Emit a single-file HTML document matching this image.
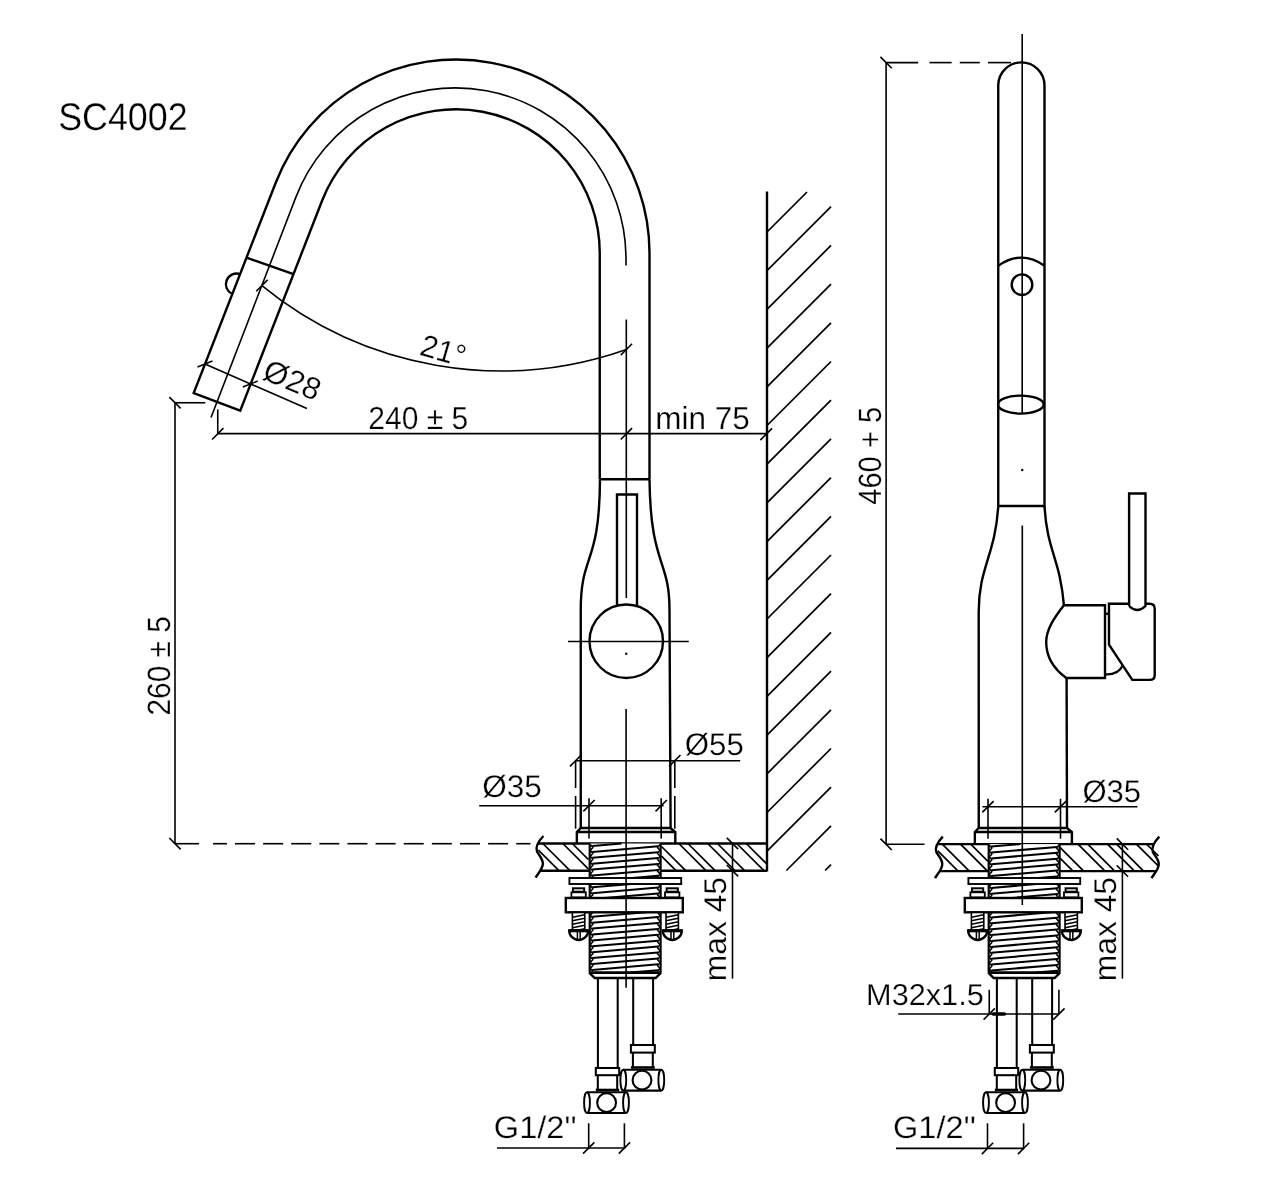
<!DOCTYPE html>
<html lang="en"><head><meta charset="utf-8"><title>SC4002</title>
<style>
html,body{margin:0;padding:0;background:#fff;overflow:hidden}
svg{display:block;will-change:transform}
svg *{vector-effect:none}
.d{fill:none;stroke:#000;stroke-linecap:butt;stroke-linejoin:miter}
.d text{fill:#000;stroke:#fff;paint-order:fill stroke;stroke-linejoin:round;font-family:"Liberation Sans",sans-serif;text-rendering:geometricPrecision}
</style></head>
<body>
<svg width="1280" height="1192" viewBox="0 0 1280 1192">
<rect width="1280" height="1192" fill="#fff"/>
<g class="d">
<path d="M649.5 479.25 L649.5 253 A193.5 193.5 0 0 0 275.72 182.71 L193.7 393.09 L240.27 410.6 L322.07 200.78 A143.75 143.75 0 0 1 599.75 253 L599.75 479.25" stroke-width="2.4" />
<line x1="246.48" y1="257.71" x2="293.52" y2="274.01" stroke-width="2.4" />
<path d="M211 417.5 L295.89 197.1 A170.8 170.8 0 0 1 626 258.7 L626 265.6" stroke-width="1.6" />
<path d="M239.75 274 A10.7 10.7 0 0 0 232.25 294" stroke-width="2.4" />
<path d="M261.9 285.6 A377.86 377.86 0 0 0 626.4 349.4" stroke-width="1.6" />
<line x1="256.24" y1="291.26" x2="267.56" y2="279.94" stroke-width="1.6" />
<line x1="620.74" y1="355.06" x2="632.06" y2="343.74" stroke-width="1.6" />
<line x1="205" y1="364" x2="306.9" y2="408.5" stroke-width="1.6" />
<line x1="197.55" y1="366.92" x2="212.45" y2="361.08" stroke-width="1.6" />
<line x1="242.8" y1="386.92" x2="257.7" y2="381.08" stroke-width="1.6" />
<line x1="217.75" y1="433.6" x2="767" y2="433.6" stroke-width="1.6" />
<line x1="217.75" y1="409.4" x2="217.75" y2="433.6" stroke-width="1.6" />
<line x1="212.09" y1="439.46" x2="223.41" y2="428.14" stroke-width="1.6" />
<line x1="620.74" y1="439.46" x2="632.06" y2="428.14" stroke-width="1.6" />
<line x1="760.33" y1="440.07" x2="772.07" y2="428.33" stroke-width="1.6" />
<line x1="175" y1="402.75" x2="175" y2="843.7" stroke-width="1.6" />
<line x1="175" y1="402.75" x2="205.25" y2="402.75" stroke-width="1.6" />
<line x1="169.34" y1="397.09" x2="180.66" y2="408.41" stroke-width="1.6" />
<line x1="169.34" y1="838.04" x2="180.66" y2="849.36" stroke-width="1.6" />
<line x1="175" y1="843.7" x2="199" y2="843.7" stroke-width="1.6" />
<line x1="213" y1="843.7" x2="227" y2="843.7" stroke-width="1.6" />
<line x1="235" y1="843.7" x2="255" y2="843.7" stroke-width="1.6" />
<line x1="263.12" y1="843.7" x2="283.12" y2="843.7" stroke-width="1.6" />
<line x1="291.24" y1="843.7" x2="311.24" y2="843.7" stroke-width="1.6" />
<line x1="319.36" y1="843.7" x2="339.36" y2="843.7" stroke-width="1.6" />
<line x1="347.48" y1="843.7" x2="367.48" y2="843.7" stroke-width="1.6" />
<line x1="375.6" y1="843.7" x2="395.6" y2="843.7" stroke-width="1.6" />
<line x1="403.72" y1="843.7" x2="423.72" y2="843.7" stroke-width="1.6" />
<line x1="431.84" y1="843.7" x2="451.84" y2="843.7" stroke-width="1.6" />
<line x1="459.96" y1="843.7" x2="479.96" y2="843.7" stroke-width="1.6" />
<line x1="488.08" y1="843.7" x2="508.08" y2="843.7" stroke-width="1.6" />
<line x1="516.2" y1="843.7" x2="530.5" y2="843.7" stroke-width="1.6" />
<path d="M600 479.25 C599.5 566.75 580.75 552.5 580.75 610 L580.75 828" stroke-width="2.4" />
<path d="M649.5 479.25 C650.5 566.75 669.5 558 669.5 610 L670.6 828" stroke-width="2.4" />
<line x1="600" y1="479.25" x2="649.5" y2="479.25" stroke-width="2.4" />
<path d="M617 606 L617 494.5 L637 494.5 L637 606" stroke-width="2.4" />
<circle cx="626.25" cy="641.25" r="36.75" stroke-width="2.4" />
<line x1="568" y1="641.5" x2="688.75" y2="641.5" stroke-width="1.6" />
<circle cx="626.25" cy="653.75" r="0.45" stroke-width="1.6" fill="#000"/>
<path d="M580.75 828 L670.4 828 M576.85 843.5 L576.85 832 L580.75 828 M675.3 843.5 L675.3 832 L670.4 828 M576.85 832 L675.3 832" stroke-width="2.4" />
<line x1="538" y1="843.5" x2="767" y2="843.5" stroke-width="2.4" />
<line x1="541" y1="870.7" x2="767" y2="870.7" stroke-width="2.4" />
<line x1="538.4" y1="850.2" x2="558.9" y2="870.7" stroke-width="1.7" />
<line x1="542.8" y1="843.5" x2="570" y2="870.7" stroke-width="1.7" />
<line x1="562.8" y1="843.5" x2="588.5" y2="869.2" stroke-width="1.7" />
<line x1="572.3" y1="843.5" x2="588.5" y2="859.7" stroke-width="1.7" />
<line x1="661.5" y1="856.2" x2="676" y2="870.7" stroke-width="1.7" />
<line x1="661.5" y1="846.5" x2="685.7" y2="870.7" stroke-width="1.7" />
<line x1="678.8" y1="843.5" x2="706" y2="870.7" stroke-width="1.7" />
<line x1="687.9" y1="843.5" x2="715.1" y2="870.7" stroke-width="1.7" />
<line x1="707.7" y1="843.5" x2="734.9" y2="870.7" stroke-width="1.7" />
<line x1="717.4" y1="843.5" x2="744.6" y2="870.7" stroke-width="1.7" />
<line x1="736.7" y1="843.5" x2="763.9" y2="870.7" stroke-width="1.7" />
<line x1="746.3" y1="843.5" x2="767" y2="864.2" stroke-width="1.7" />
<path d="M543.4 836 C539.1 840.5 535.1 846.5 537 851.5 C539.1 855.5 543.6 859.5 542.8 864.5 C542.1 869.5 538.1 873.5 535.6 877.5" stroke-width="2.4" />
<rect x="589.7" y="843.5" width="70.9" height="129.1" fill="#fff" stroke="none"/>
<line x1="592.2" y1="846" x2="621.62" y2="843.5" stroke-width="2.05" />
<line x1="592.2" y1="851.9" x2="658.1" y2="846.3" stroke-width="2.05" />
<line x1="592.2" y1="857.8" x2="658.1" y2="852.2" stroke-width="2.05" />
<line x1="592.2" y1="863.7" x2="658.1" y2="858.1" stroke-width="2.05" />
<line x1="592.2" y1="869.6" x2="658.1" y2="864" stroke-width="2.05" />
<line x1="592.2" y1="875.5" x2="658.1" y2="869.9" stroke-width="2.05" />
<line x1="592.2" y1="881.4" x2="658.1" y2="875.8" stroke-width="2.05" />
<line x1="592.2" y1="887.3" x2="658.1" y2="881.7" stroke-width="2.05" />
<line x1="592.2" y1="893.2" x2="658.1" y2="887.6" stroke-width="2.05" />
<line x1="592.2" y1="899.1" x2="658.1" y2="893.5" stroke-width="2.05" />
<line x1="592.2" y1="905" x2="658.1" y2="899.4" stroke-width="2.05" />
<line x1="592.2" y1="910.9" x2="658.1" y2="905.3" stroke-width="2.05" />
<line x1="592.2" y1="916.8" x2="658.1" y2="911.2" stroke-width="2.05" />
<line x1="592.2" y1="922.7" x2="658.1" y2="917.1" stroke-width="2.05" />
<line x1="592.2" y1="928.6" x2="658.1" y2="923" stroke-width="2.05" />
<line x1="592.2" y1="934.5" x2="658.1" y2="928.9" stroke-width="2.05" />
<line x1="592.2" y1="940.4" x2="658.1" y2="934.8" stroke-width="2.05" />
<line x1="592.2" y1="946.3" x2="658.1" y2="940.7" stroke-width="2.05" />
<line x1="592.2" y1="952.2" x2="658.1" y2="946.6" stroke-width="2.05" />
<line x1="592.2" y1="958.1" x2="658.1" y2="952.5" stroke-width="2.05" />
<line x1="592.2" y1="964" x2="658.1" y2="958.4" stroke-width="2.05" />
<line x1="592.2" y1="969.9" x2="658.1" y2="964.3" stroke-width="2.05" />
<line x1="629.86" y1="972.6" x2="658.1" y2="970.2" stroke-width="2.05" />
<line x1="589.7" y1="843.5" x2="589.7" y2="972.6" stroke-width="2.2" />
<line x1="660.6" y1="843.5" x2="660.6" y2="972.6" stroke-width="2.2" />
<path d="M590.3 844.5 L592.9 847.45 L590.3 850.4 L592.9 853.35 L590.3 856.3 L592.9 859.25 L590.3 862.2 L592.9 865.15 L590.3 868.1 L592.9 871.05 L590.3 874 L592.9 876.95 L590.3 879.9 L592.9 882.85 L590.3 885.8 L592.9 888.75 L590.3 891.7 L592.9 894.65 L590.3 897.6 L592.9 900.55 L590.3 903.5 L592.9 906.45 L590.3 909.4 L592.9 912.35 L590.3 915.3 L592.9 918.25 L590.3 921.2 L592.9 924.15 L590.3 927.1 L592.9 930.05 L590.3 933 L592.9 935.95 L590.3 938.9 L592.9 941.85 L590.3 944.8 L592.9 947.75 L590.3 950.7 L592.9 953.65 L590.3 956.6 L592.9 959.55 L590.3 962.5 L592.9 965.45 L590.3 968.4 L592.9 971.35" stroke-width="1.5" stroke-linejoin="round"/>
<path d="M660 844.5 L657.4 847.45 L660 850.4 L657.4 853.35 L660 856.3 L657.4 859.25 L660 862.2 L657.4 865.15 L660 868.1 L657.4 871.05 L660 874 L657.4 876.95 L660 879.9 L657.4 882.85 L660 885.8 L657.4 888.75 L660 891.7 L657.4 894.65 L660 897.6 L657.4 900.55 L660 903.5 L657.4 906.45 L660 909.4 L657.4 912.35 L660 915.3 L657.4 918.25 L660 921.2 L657.4 924.15 L660 927.1 L657.4 930.05 L660 933 L657.4 935.95 L660 938.9 L657.4 941.85 L660 944.8 L657.4 947.75 L660 950.7 L657.4 953.65 L660 956.6 L657.4 959.55 L660 962.5 L657.4 965.45 L660 968.4 L657.4 971.35" stroke-width="1.5" stroke-linejoin="round"/>
<path d="M589.7 972.6 L660.6 972.6" stroke-width="2.8" />
<path d="M589.2 972.6 L594.7 978 L655.6 978 L661.1 972.6" stroke-width="2.4" />
<rect x="569.4" y="878" width="111.8" height="6" stroke-width="1.9" fill="#fff"/>
<rect x="565.8" y="898" width="117" height="14.3" stroke-width="2.4" fill="#fff"/>
<rect x="573" y="888.3" width="11.2" height="3.4" stroke-width="2.0" fill="#fff"/>
<rect x="571.4" y="892.3" width="14.4" height="5" stroke-width="1.8" fill="#fff"/>
<rect x="572.4" y="912.5" width="12.4" height="18" stroke-width="1.6" fill="#fff"/>
<line x1="572.4" y1="917.3" x2="584.8" y2="914.7" stroke-width="1.5" />
<line x1="572.4" y1="920.8" x2="584.8" y2="918.2" stroke-width="1.5" />
<line x1="572.4" y1="924.3" x2="584.8" y2="921.7" stroke-width="1.5" />
<line x1="572.4" y1="927.8" x2="584.8" y2="925.2" stroke-width="1.5" />
<line x1="572.4" y1="931.3" x2="584.8" y2="928.7" stroke-width="1.5" />
<path d="M569.2 930.5 L588.2 930.5 A9.5 9.5 0 0 1 569.2 930.5 Z" stroke-width="2.4" fill="#fff"/>
<line x1="569.2" y1="930.8" x2="588.2" y2="930.8" stroke-width="3" />
<line x1="577.4" y1="931" x2="577.4" y2="939.5" stroke-width="1.5" />
<line x1="580.2" y1="931" x2="580.2" y2="939.5" stroke-width="1.5" />
<rect x="666.6" y="888.3" width="11.2" height="3.4" stroke-width="2.0" fill="#fff"/>
<rect x="665" y="892.3" width="14.4" height="5" stroke-width="1.8" fill="#fff"/>
<rect x="666" y="912.5" width="12.4" height="18" stroke-width="1.6" fill="#fff"/>
<line x1="666" y1="917.3" x2="678.4" y2="914.7" stroke-width="1.5" />
<line x1="666" y1="920.8" x2="678.4" y2="918.2" stroke-width="1.5" />
<line x1="666" y1="924.3" x2="678.4" y2="921.7" stroke-width="1.5" />
<line x1="666" y1="927.8" x2="678.4" y2="925.2" stroke-width="1.5" />
<line x1="666" y1="931.3" x2="678.4" y2="928.7" stroke-width="1.5" />
<path d="M662.8 930.5 L681.8 930.5 A9.5 9.5 0 0 1 662.8 930.5 Z" stroke-width="2.4" fill="#fff"/>
<line x1="662.8" y1="930.8" x2="681.8" y2="930.8" stroke-width="3" />
<line x1="671" y1="931" x2="671" y2="939.5" stroke-width="1.5" />
<line x1="673.8" y1="931" x2="673.8" y2="939.5" stroke-width="1.5" />
<line x1="597.9" y1="978" x2="597.9" y2="1068" stroke-width="2.05" />
<line x1="617.7" y1="978" x2="617.7" y2="1068" stroke-width="2.05" />
<line x1="633.2" y1="978" x2="633.2" y2="1045" stroke-width="2.05" />
<line x1="653.1" y1="978" x2="653.1" y2="1045" stroke-width="2.05" />
<rect x="630.9" y="1045" width="23.9" height="7.6" stroke-width="2.05" fill="#fff"/>
<line x1="632.9" y1="1052.6" x2="632.9" y2="1067.8" stroke-width="2.05" />
<line x1="652.8" y1="1052.6" x2="652.8" y2="1067.8" stroke-width="2.05" />
<line x1="630.9" y1="1067.5" x2="654.8" y2="1067.5" stroke-width="2.6" />
<rect x="623.3" y="1069.8" width="38" height="20.8" fill="#fff" stroke="none"/>
<ellipse cx="623.3" cy="1080.2" rx="2.9" ry="10.4" stroke-width="1.9" fill="#fff"/>
<ellipse cx="661.3" cy="1080.2" rx="2.9" ry="10.4" stroke-width="1.9" fill="#fff"/>
<line x1="623.3" y1="1069.8" x2="661.3" y2="1069.8" stroke-width="2.05" />
<line x1="623.3" y1="1090.6" x2="661.3" y2="1090.6" stroke-width="2.05" />
<circle cx="642" cy="1080.2" r="9.4" stroke-width="2.05" />
<rect x="595.8" y="1068" width="23.4" height="7.2" stroke-width="2.05" fill="#fff"/>
<line x1="597.8" y1="1075.2" x2="597.8" y2="1090.3" stroke-width="2.05" />
<line x1="617.2" y1="1075.2" x2="617.2" y2="1090.3" stroke-width="2.05" />
<line x1="595.8" y1="1090" x2="619.2" y2="1090" stroke-width="2.6" />
<rect x="587" y="1092.3" width="39" height="20.7" fill="#fff" stroke="none"/>
<ellipse cx="587" cy="1102.65" rx="2.9" ry="10.35" stroke-width="1.9" fill="#fff"/>
<ellipse cx="626" cy="1102.65" rx="2.9" ry="10.35" stroke-width="1.9" fill="#fff"/>
<line x1="587" y1="1092.3" x2="626" y2="1092.3" stroke-width="2.05" />
<line x1="587" y1="1113" x2="626" y2="1113" stroke-width="2.05" />
<circle cx="606.6" cy="1102.65" r="9.4" stroke-width="2.05" />
<line x1="767" y1="191.5" x2="767" y2="871.5" stroke-width="2.4" />
<line x1="767" y1="232" x2="807" y2="192" stroke-width="1.7" />
<line x1="767" y1="270.7" x2="831" y2="206.7" stroke-width="1.7" />
<line x1="767" y1="309.4" x2="831" y2="245.4" stroke-width="1.7" />
<line x1="767" y1="348.1" x2="831" y2="284.1" stroke-width="1.7" />
<line x1="767" y1="386.8" x2="831" y2="322.8" stroke-width="1.7" />
<line x1="767" y1="425.5" x2="831" y2="361.5" stroke-width="1.7" />
<line x1="767" y1="464.2" x2="831" y2="400.2" stroke-width="1.7" />
<line x1="767" y1="502.9" x2="831" y2="438.9" stroke-width="1.7" />
<line x1="767" y1="541.6" x2="831" y2="477.6" stroke-width="1.7" />
<line x1="767" y1="580.3" x2="831" y2="516.3" stroke-width="1.7" />
<line x1="767" y1="619" x2="831" y2="555" stroke-width="1.7" />
<line x1="767" y1="657.7" x2="831" y2="593.7" stroke-width="1.7" />
<line x1="767" y1="696.4" x2="831" y2="632.4" stroke-width="1.7" />
<line x1="767" y1="735.1" x2="831" y2="671.1" stroke-width="1.7" />
<line x1="767" y1="773.8" x2="831" y2="709.8" stroke-width="1.7" />
<line x1="767" y1="812.5" x2="831" y2="748.5" stroke-width="1.7" />
<line x1="767" y1="851.2" x2="831" y2="787.2" stroke-width="1.7" />
<line x1="786.4" y1="870.5" x2="831" y2="825.9" stroke-width="1.7" />
<line x1="825.1" y1="870.5" x2="831" y2="864.6" stroke-width="1.7" />
<line x1="576.1" y1="760.7" x2="740.2" y2="760.7" stroke-width="1.6" />
<line x1="575.6" y1="760.7" x2="575.6" y2="788" stroke-width="1.6" />
<line x1="575.6" y1="796" x2="575.6" y2="828.7" stroke-width="1.6" />
<line x1="674.8" y1="760.7" x2="674.8" y2="788" stroke-width="1.6" />
<line x1="674.8" y1="796" x2="674.8" y2="828.7" stroke-width="1.6" />
<line x1="569.94" y1="766.36" x2="581.26" y2="755.04" stroke-width="1.6" />
<line x1="669.14" y1="766.36" x2="680.46" y2="755.04" stroke-width="1.6" />
<line x1="479.2" y1="805.7" x2="663.6" y2="805.7" stroke-width="1.6" />
<line x1="589" y1="798.3" x2="589" y2="838.4" stroke-width="1.6" />
<line x1="661.2" y1="798.3" x2="661.2" y2="838.4" stroke-width="1.6" />
<line x1="583.34" y1="811.36" x2="594.66" y2="800.04" stroke-width="1.6" />
<line x1="655.54" y1="811.36" x2="666.86" y2="800.04" stroke-width="1.6" />
<line x1="732.5" y1="843.5" x2="732.5" y2="978.6" stroke-width="1.6" />
<line x1="726.84" y1="837.84" x2="738.16" y2="849.16" stroke-width="1.6" />
<line x1="726.84" y1="865.04" x2="738.16" y2="876.36" stroke-width="1.6" />
<line x1="497" y1="1148" x2="625.5" y2="1148" stroke-width="1.6" />
<line x1="588.7" y1="1123.3" x2="588.7" y2="1148" stroke-width="1.6" />
<line x1="624.4" y1="1123.3" x2="624.4" y2="1148" stroke-width="1.6" />
<line x1="583.04" y1="1153.66" x2="594.36" y2="1142.34" stroke-width="1.6" />
<line x1="618.74" y1="1153.66" x2="630.06" y2="1142.34" stroke-width="1.6" />
<line x1="1022.2" y1="34" x2="1022.2" y2="413.8" stroke-width="1.6" />
<path d="M998.25 506 L998.25 85.5 A23.1 23.1 0 0 1 1044.5 85.5 L1044.5 506 Z" stroke-width="2.4" />
<path d="M998.25 265.7 Q1021.5 249.5 1044.5 265.7" stroke-width="2.4" />
<circle cx="1022" cy="284.7" r="10.3" stroke-width="2.4" />
<ellipse cx="1020.8" cy="404.6" rx="22.8" ry="9" stroke-width="2.4" />
<circle cx="1022.25" cy="470" r="0.45" stroke-width="1.6" fill="#000"/>
<line x1="886.3" y1="62.6" x2="918.2" y2="62.6" stroke-width="1.6" />
<line x1="929.4" y1="62.6" x2="951.6" y2="62.6" stroke-width="1.6" />
<line x1="959.8" y1="62.6" x2="979.8" y2="62.6" stroke-width="1.6" />
<line x1="988" y1="62.6" x2="1011" y2="62.6" stroke-width="1.6" />
<line x1="886.1" y1="62.6" x2="886.1" y2="844.3" stroke-width="1.6" />
<line x1="880.44" y1="56.94" x2="891.76" y2="68.26" stroke-width="1.6" />
<line x1="880.44" y1="838.64" x2="891.76" y2="849.96" stroke-width="1.6" />
<line x1="886.1" y1="844.3" x2="924.5" y2="844.3" stroke-width="1.6" />
<path d="M998.25 506 C995.25 556 978.7 567 978.7 612 L978.75 828" stroke-width="2.4" />
<path d="M1044.5 506 C1047 551 1059.9 557.7 1063.9 605.2" stroke-width="2.4" />
<line x1="1066.6" y1="678" x2="1067" y2="828" stroke-width="2.4" />
<path d="M1063.9 605.2 L1105 605.2 L1105 678 L1066.3 678 C1052.5 668 1046.2 656 1046.2 642 C1046.2 630 1053.5 618.5 1063.9 605.2 Z" stroke-width="2.4" />
<path d="M1105.2 613.7 L1109 613.7 M1105.2 674.3 Q1118 675 1122.8 665.5" stroke-width="2.4" />
<path d="M1109 603.8 L1149.7 603.8 Q1154.7 603.8 1154.7 608.8 L1154.7 674.9 Q1154.7 679.9 1149.7 679.9 L1132.3 679.9 L1109 644.6 Z" stroke-width="2.4" />
<path d="M1129.1 606 L1129.1 493.5 L1145.5 493.5 L1145.5 606 Q1137.3 614 1129.1 606" stroke-width="2.4" fill="#fff"/>
<path d="M978.75 828 L1067 828 M974.85 844.1 L974.85 832 L978.75 828 M1071.9 844.1 L1071.9 832 L1067 828 M974.85 832 L1071.9 832" stroke-width="2.4" />
<line x1="937.5" y1="844.1" x2="1153.5" y2="844.1" stroke-width="2.4" />
<line x1="940" y1="871.1" x2="1156" y2="871.1" stroke-width="2.4" />
<line x1="937.8" y1="850.8" x2="958.1" y2="871.1" stroke-width="1.7" />
<line x1="942.3" y1="844.1" x2="969.3" y2="871.1" stroke-width="1.7" />
<line x1="960.5" y1="844.1" x2="987.5" y2="871.1" stroke-width="1.7" />
<line x1="970.7" y1="844.1" x2="988" y2="861.4" stroke-width="1.7" />
<line x1="1060" y1="858.1" x2="1073" y2="871.1" stroke-width="1.7" />
<line x1="1060" y1="847.4" x2="1083.7" y2="871.1" stroke-width="1.7" />
<line x1="1078" y1="844.1" x2="1105" y2="871.1" stroke-width="1.7" />
<line x1="1087.7" y1="844.1" x2="1114.7" y2="871.1" stroke-width="1.7" />
<line x1="1107.5" y1="844.1" x2="1134.5" y2="871.1" stroke-width="1.7" />
<line x1="1116.6" y1="844.1" x2="1143.6" y2="871.1" stroke-width="1.7" />
<line x1="1136.4" y1="844.1" x2="1158.5" y2="866.2" stroke-width="1.7" />
<line x1="1146.6" y1="844.1" x2="1158.5" y2="856" stroke-width="1.7" />
<path d="M942.8 836.6 C938.5 841.1 934.5 847.1 936.4 852.1 C938.5 856.1 943 860.1 942.2 865.1 C941.5 870.1 937.5 874.1 935 878.1" stroke-width="2.4" />
<path d="M1159.3 836.6 C1155 841.1 1151 847.1 1152.9 852.1 C1155 856.1 1159.5 860.1 1158.7 865.1 C1158 870.1 1154 874.1 1151.5 878.1" stroke-width="2.4" />
<rect x="988.7" y="844.1" width="70.9" height="128.5" fill="#fff" stroke="none"/>
<line x1="991.2" y1="846.6" x2="1020.62" y2="844.1" stroke-width="2.05" />
<line x1="991.2" y1="852.5" x2="1057.1" y2="846.9" stroke-width="2.05" />
<line x1="991.2" y1="858.4" x2="1057.1" y2="852.8" stroke-width="2.05" />
<line x1="991.2" y1="864.3" x2="1057.1" y2="858.7" stroke-width="2.05" />
<line x1="991.2" y1="870.2" x2="1057.1" y2="864.6" stroke-width="2.05" />
<line x1="991.2" y1="876.1" x2="1057.1" y2="870.5" stroke-width="2.05" />
<line x1="991.2" y1="882" x2="1057.1" y2="876.4" stroke-width="2.05" />
<line x1="991.2" y1="887.9" x2="1057.1" y2="882.3" stroke-width="2.05" />
<line x1="991.2" y1="893.8" x2="1057.1" y2="888.2" stroke-width="2.05" />
<line x1="991.2" y1="899.7" x2="1057.1" y2="894.1" stroke-width="2.05" />
<line x1="991.2" y1="905.6" x2="1057.1" y2="900" stroke-width="2.05" />
<line x1="991.2" y1="911.5" x2="1057.1" y2="905.9" stroke-width="2.05" />
<line x1="991.2" y1="917.4" x2="1057.1" y2="911.8" stroke-width="2.05" />
<line x1="991.2" y1="923.3" x2="1057.1" y2="917.7" stroke-width="2.05" />
<line x1="991.2" y1="929.2" x2="1057.1" y2="923.6" stroke-width="2.05" />
<line x1="991.2" y1="935.1" x2="1057.1" y2="929.5" stroke-width="2.05" />
<line x1="991.2" y1="941" x2="1057.1" y2="935.4" stroke-width="2.05" />
<line x1="991.2" y1="946.9" x2="1057.1" y2="941.3" stroke-width="2.05" />
<line x1="991.2" y1="952.8" x2="1057.1" y2="947.2" stroke-width="2.05" />
<line x1="991.2" y1="958.7" x2="1057.1" y2="953.1" stroke-width="2.05" />
<line x1="991.2" y1="964.6" x2="1057.1" y2="959" stroke-width="2.05" />
<line x1="991.2" y1="970.5" x2="1057.1" y2="964.9" stroke-width="2.05" />
<line x1="1035.92" y1="972.6" x2="1057.1" y2="970.8" stroke-width="2.05" />
<line x1="988.7" y1="844.1" x2="988.7" y2="972.6" stroke-width="2.2" />
<line x1="1059.6" y1="844.1" x2="1059.6" y2="972.6" stroke-width="2.2" />
<path d="M989.3 845.1 L991.9 848.05 L989.3 851 L991.9 853.95 L989.3 856.9 L991.9 859.85 L989.3 862.8 L991.9 865.75 L989.3 868.7 L991.9 871.65 L989.3 874.6 L991.9 877.55 L989.3 880.5 L991.9 883.45 L989.3 886.4 L991.9 889.35 L989.3 892.3 L991.9 895.25 L989.3 898.2 L991.9 901.15 L989.3 904.1 L991.9 907.05 L989.3 910 L991.9 912.95 L989.3 915.9 L991.9 918.85 L989.3 921.8 L991.9 924.75 L989.3 927.7 L991.9 930.65 L989.3 933.6 L991.9 936.55 L989.3 939.5 L991.9 942.45 L989.3 945.4 L991.9 948.35 L989.3 951.3 L991.9 954.25 L989.3 957.2 L991.9 960.15 L989.3 963.1 L991.9 966.05 L989.3 969 L991.9 971.95" stroke-width="1.5" stroke-linejoin="round"/>
<path d="M1059 845.1 L1056.4 848.05 L1059 851 L1056.4 853.95 L1059 856.9 L1056.4 859.85 L1059 862.8 L1056.4 865.75 L1059 868.7 L1056.4 871.65 L1059 874.6 L1056.4 877.55 L1059 880.5 L1056.4 883.45 L1059 886.4 L1056.4 889.35 L1059 892.3 L1056.4 895.25 L1059 898.2 L1056.4 901.15 L1059 904.1 L1056.4 907.05 L1059 910 L1056.4 912.95 L1059 915.9 L1056.4 918.85 L1059 921.8 L1056.4 924.75 L1059 927.7 L1056.4 930.65 L1059 933.6 L1056.4 936.55 L1059 939.5 L1056.4 942.45 L1059 945.4 L1056.4 948.35 L1059 951.3 L1056.4 954.25 L1059 957.2 L1056.4 960.15 L1059 963.1 L1056.4 966.05 L1059 969 L1056.4 971.95" stroke-width="1.5" stroke-linejoin="round"/>
<path d="M988.7 972.6 L1059.6 972.6" stroke-width="2.8" />
<path d="M988.2 972.6 L993.7 978 L1054.6 978 L1060.1 972.6" stroke-width="2.4" />
<rect x="968.4" y="878" width="111.8" height="6" stroke-width="1.9" fill="#fff"/>
<rect x="964.8" y="898" width="117" height="14.3" stroke-width="2.4" fill="#fff"/>
<rect x="972" y="888.3" width="11.2" height="3.4" stroke-width="2.0" fill="#fff"/>
<rect x="970.4" y="892.3" width="14.4" height="5" stroke-width="1.8" fill="#fff"/>
<rect x="971.4" y="912.5" width="12.4" height="18" stroke-width="1.6" fill="#fff"/>
<line x1="971.4" y1="917.3" x2="983.8" y2="914.7" stroke-width="1.5" />
<line x1="971.4" y1="920.8" x2="983.8" y2="918.2" stroke-width="1.5" />
<line x1="971.4" y1="924.3" x2="983.8" y2="921.7" stroke-width="1.5" />
<line x1="971.4" y1="927.8" x2="983.8" y2="925.2" stroke-width="1.5" />
<line x1="971.4" y1="931.3" x2="983.8" y2="928.7" stroke-width="1.5" />
<path d="M968.2 930.5 L987.2 930.5 A9.5 9.5 0 0 1 968.2 930.5 Z" stroke-width="2.4" fill="#fff"/>
<line x1="968.2" y1="930.8" x2="987.2" y2="930.8" stroke-width="3" />
<line x1="976.4" y1="931" x2="976.4" y2="939.5" stroke-width="1.5" />
<line x1="979.2" y1="931" x2="979.2" y2="939.5" stroke-width="1.5" />
<rect x="1065.6" y="888.3" width="11.2" height="3.4" stroke-width="2.0" fill="#fff"/>
<rect x="1064" y="892.3" width="14.4" height="5" stroke-width="1.8" fill="#fff"/>
<rect x="1065" y="912.5" width="12.4" height="18" stroke-width="1.6" fill="#fff"/>
<line x1="1065" y1="917.3" x2="1077.4" y2="914.7" stroke-width="1.5" />
<line x1="1065" y1="920.8" x2="1077.4" y2="918.2" stroke-width="1.5" />
<line x1="1065" y1="924.3" x2="1077.4" y2="921.7" stroke-width="1.5" />
<line x1="1065" y1="927.8" x2="1077.4" y2="925.2" stroke-width="1.5" />
<line x1="1065" y1="931.3" x2="1077.4" y2="928.7" stroke-width="1.5" />
<path d="M1061.8 930.5 L1080.8 930.5 A9.5 9.5 0 0 1 1061.8 930.5 Z" stroke-width="2.4" fill="#fff"/>
<line x1="1061.8" y1="930.8" x2="1080.8" y2="930.8" stroke-width="3" />
<line x1="1070" y1="931" x2="1070" y2="939.5" stroke-width="1.5" />
<line x1="1072.8" y1="931" x2="1072.8" y2="939.5" stroke-width="1.5" />
<line x1="996.9" y1="978" x2="996.9" y2="1068" stroke-width="2.05" />
<line x1="1016.7" y1="978" x2="1016.7" y2="1068" stroke-width="2.05" />
<line x1="1032.2" y1="978" x2="1032.2" y2="1045" stroke-width="2.05" />
<line x1="1052.1" y1="978" x2="1052.1" y2="1045" stroke-width="2.05" />
<rect x="1029.9" y="1045" width="23.9" height="7.6" stroke-width="2.05" fill="#fff"/>
<line x1="1031.9" y1="1052.6" x2="1031.9" y2="1067.8" stroke-width="2.05" />
<line x1="1051.8" y1="1052.6" x2="1051.8" y2="1067.8" stroke-width="2.05" />
<line x1="1029.9" y1="1067.5" x2="1053.8" y2="1067.5" stroke-width="2.6" />
<rect x="1022.3" y="1069.8" width="38" height="20.8" fill="#fff" stroke="none"/>
<ellipse cx="1022.3" cy="1080.2" rx="2.9" ry="10.4" stroke-width="1.9" fill="#fff"/>
<ellipse cx="1060.3" cy="1080.2" rx="2.9" ry="10.4" stroke-width="1.9" fill="#fff"/>
<line x1="1022.3" y1="1069.8" x2="1060.3" y2="1069.8" stroke-width="2.05" />
<line x1="1022.3" y1="1090.6" x2="1060.3" y2="1090.6" stroke-width="2.05" />
<circle cx="1041" cy="1080.2" r="9.4" stroke-width="2.05" />
<rect x="994.8" y="1068" width="23.4" height="7.2" stroke-width="2.05" fill="#fff"/>
<line x1="996.8" y1="1075.2" x2="996.8" y2="1090.3" stroke-width="2.05" />
<line x1="1016.2" y1="1075.2" x2="1016.2" y2="1090.3" stroke-width="2.05" />
<line x1="994.8" y1="1090" x2="1018.2" y2="1090" stroke-width="2.6" />
<rect x="986" y="1092.3" width="39" height="20.7" fill="#fff" stroke="none"/>
<ellipse cx="986" cy="1102.65" rx="2.9" ry="10.35" stroke-width="1.9" fill="#fff"/>
<ellipse cx="1025" cy="1102.65" rx="2.9" ry="10.35" stroke-width="1.9" fill="#fff"/>
<line x1="986" y1="1092.3" x2="1025" y2="1092.3" stroke-width="2.05" />
<line x1="986" y1="1113" x2="1025" y2="1113" stroke-width="2.05" />
<circle cx="1005.6" cy="1102.65" r="9.4" stroke-width="2.05" />
<line x1="982.5" y1="806.75" x2="1137.5" y2="806.75" stroke-width="1.6" />
<line x1="988" y1="798.75" x2="988" y2="838.75" stroke-width="1.6" />
<line x1="1060.5" y1="798.75" x2="1060.5" y2="838.75" stroke-width="1.6" />
<line x1="982.34" y1="812.41" x2="993.66" y2="801.09" stroke-width="1.6" />
<line x1="1054.84" y1="812.41" x2="1066.16" y2="801.09" stroke-width="1.6" />
<line x1="1122.4" y1="844.1" x2="1122.4" y2="978.6" stroke-width="1.6" />
<line x1="1116.74" y1="838.44" x2="1128.06" y2="849.76" stroke-width="1.6" />
<line x1="1116.74" y1="865.44" x2="1128.06" y2="876.76" stroke-width="1.6" />
<line x1="898.2" y1="1014" x2="1059.4" y2="1014" stroke-width="1.6" />
<line x1="989.25" y1="989.8" x2="989.25" y2="1014" stroke-width="1.6" />
<line x1="1058.9" y1="989.8" x2="1058.9" y2="1014" stroke-width="1.6" />
<line x1="983.59" y1="1019.66" x2="994.91" y2="1008.34" stroke-width="1.6" />
<line x1="1053.24" y1="1019.66" x2="1064.56" y2="1008.34" stroke-width="1.6" />
<line x1="993.3" y1="1014" x2="1004.3" y2="1014" stroke-width="3.6" stroke-linecap="round"/>
<line x1="896" y1="1148.4" x2="1024" y2="1148.4" stroke-width="1.6" />
<line x1="987.5" y1="1123.3" x2="987.5" y2="1148.4" stroke-width="1.6" />
<line x1="1023.6" y1="1123.3" x2="1023.6" y2="1148.4" stroke-width="1.6" />
<line x1="981.84" y1="1154.06" x2="993.16" y2="1142.74" stroke-width="1.6" />
<line x1="1017.94" y1="1154.06" x2="1029.26" y2="1142.74" stroke-width="1.6" />
<text x="58.24" y="130" font-size="38.53" textLength="129.35" lengthAdjust="spacingAndGlyphs" stroke-width="0.3">SC4002</text>
<text x="368.37" y="428.5" font-size="31.82" textLength="99.9" lengthAdjust="spacingAndGlyphs" stroke-width="0.25">240 ± 5</text>
<text x="655.25" y="428.8" font-size="31.82" textLength="94.48" lengthAdjust="spacingAndGlyphs" stroke-width="0.25">min 75</text>
<text x="170.3" y="715.62" font-size="32.25" textLength="99.59" lengthAdjust="spacingAndGlyphs" stroke-width="0.25" transform="rotate(-90 170.3 715.62)">260 ± 5</text>
<text x="684.81" y="755" font-size="31.24" textLength="58.97" lengthAdjust="spacingAndGlyphs" stroke-width="0.25">Ø55</text>
<text x="482.29" y="797" font-size="31.24" textLength="59.5" lengthAdjust="spacingAndGlyphs" stroke-width="0.25">Ø35</text>
<text x="726" y="981.17" font-size="31.53" textLength="104.12" lengthAdjust="spacingAndGlyphs" stroke-width="0.25" transform="rotate(-90 726 981.17)">max 45</text>
<text x="493.85" y="1137.5" font-size="31.24" textLength="82.9" lengthAdjust="spacingAndGlyphs" stroke-width="0.25">G1/2''</text>
<text x="881.2" y="504.78" font-size="32.25" textLength="98.03" lengthAdjust="spacingAndGlyphs" stroke-width="0.25" transform="rotate(-90 881.2 504.78)">460 + 5</text>
<text x="1082.41" y="801.7" font-size="31.24" textLength="58.66" lengthAdjust="spacingAndGlyphs" stroke-width="0.25">Ø35</text>
<text x="1116" y="981.17" font-size="31.53" textLength="104.12" lengthAdjust="spacingAndGlyphs" stroke-width="0.25" transform="rotate(-90 1116 981.17)">max 45</text>
<text x="866.14" y="1005.2" font-size="30.23" textLength="117.62" lengthAdjust="spacingAndGlyphs" stroke-width="0.25">M32x1.5</text>
<text x="893.05" y="1137.5" font-size="31.24" textLength="82.9" lengthAdjust="spacingAndGlyphs" stroke-width="0.25">G1/2''</text>
<text x="261.11" y="378.61" font-size="31.1" textLength="58.85" lengthAdjust="spacingAndGlyphs" stroke-width="0.25" transform="rotate(22.5 261.11 378.61)">Ø28</text>
<text x="418.43" y="354.55" font-size="30.95" textLength="45.66" lengthAdjust="spacingAndGlyphs" stroke-width="0.25" transform="rotate(16 418.43 354.55)">21°</text>
<line x1="626.3" y1="319.5" x2="626.3" y2="598" stroke-width="1.6" />
<line x1="626.1" y1="709" x2="626.1" y2="987.7" stroke-width="1.6" />
<line x1="1022.3" y1="525.5" x2="1022.3" y2="905" stroke-width="1.6" />
</g>
</svg>
</body></html>
